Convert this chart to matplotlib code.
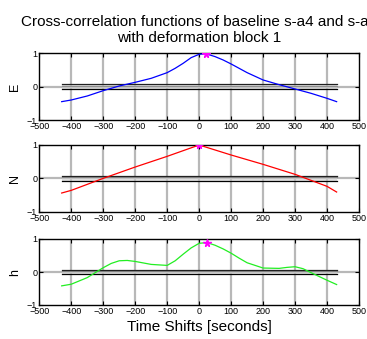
import numpy as np
import matplotlib
matplotlib.use("Agg")
import matplotlib.pyplot as plt

plt.rcParams['font.family'] = ['Liberation Sans', 'DejaVu Sans']

lags_E = [-430, -400, -350, -300, -250, -200, -150, -100, -75, -50, -25, 0, 20, 50, 75, 100, 125, 150, 200, 250, 300, 350, 400, 430]
E = [-0.45, -0.40, -0.28, -0.12, 0.02, 0.13, 0.25, 0.42, 0.55, 0.70, 0.87, 0.97, 0.99, 0.90, 0.80, 0.68, 0.55, 0.42, 0.20, 0.06, -0.07, -0.20, -0.35, -0.45]
lags_N = [-430, -400, -300, -200, -100, 0, 100, 200, 300, 400, 430]
N = [-0.44, -0.36, 0.00, 0.34, 0.66, 1.00, 0.70, 0.42, 0.12, -0.24, -0.41]
lags_h = [-430, -400, -350, -300, -275, -250, -225, -200, -150, -100, -75, -50, -25, 0, 25, 50, 75, 100, 125, 150, 200, 250, 275, 300, 325, 350, 400, 430]
H = [-0.42, -0.37, -0.17, 0.13, 0.26, 0.34, 0.35, 0.32, 0.23, 0.20, 0.34, 0.54, 0.73, 0.87, 0.89, 0.81, 0.70, 0.57, 0.42, 0.28, 0.12, 0.11, 0.14, 0.16, 0.10, -0.02, -0.25, -0.38]
peaks = {'E': (20, 0.98), 'N': (0, 1.0), 'h': (25, 0.88)}
conf = 0.075
series = [('E', lags_E, E, 'blue'), ('N', lags_N, N, 'red'), ('h', lags_h, H, '#22ee22')]
xticks = [-500, -400, -300, -200, -100, 0, 100, 200, 300, 400, 500]

fig = plt.figure(figsize=(3.67, 3.39), dpi=100)
W, Hh = 367, 339
boxes = [(53.3, 120), (145, 211.7), (239, 305)]
x0, x1 = 39.3, 359
for (name, lg, vals, col), (top, bot) in zip(series, boxes):
    ax = fig.add_axes([x0 / W, 1 - bot / Hh, (x1 - x0) / W, (bot - top) / Hh])
    ax.set_xlim(-500, 500)
    ax.set_ylim(-1, 1)
    for xv in xticks[1:-1]:
        ax.axvline(xv, color='#b8b8b8', lw=1.6, zorder=0)
    ax.axhline(0, color='#b8b8b8', lw=1.6, zorder=0)
    ax.fill_between([-430, 430], [-conf, -conf], [conf, conf], color='#d0d0d0', alpha=0.6, zorder=1, lw=0)
    ax.plot([-430, 430], [conf * 0.45, conf * 0.45], color='#909090', lw=0.8, zorder=2)
    ax.plot([-430, 430], [conf, conf], color='#202020', lw=0.9, zorder=2)
    ax.plot([-430, 430], [-conf, -conf], color='black', lw=0.9, zorder=2)
    ax.plot(lg, vals, color=col, lw=0.9, zorder=3)
    px, py = peaks[name]
    ax.plot([px], [py], marker='*', color='magenta', ms=5.5, zorder=4)
    ax.set_xticks(xticks)
    ax.set_yticks([-1, 0, 1])
    ax.tick_params(direction='in', length=3, width=0.8, labelsize=6.5, top=True, right=True, pad=1.5)
    ax.set_ylabel(name, fontsize=9, labelpad=4)
    for s in ax.spines.values():
        s.set_linewidth(1.0)
    if name == 'E':
        ax.set_title('Cross-correlation functions of baseline s-a4 and s-a5\nwith deformation block 1',
                     fontsize=11, pad=8, linespacing=1.2)
    if name == 'h':
        ax.set_xlabel('Time Shifts [seconds]', fontsize=11, labelpad=3)

fig.savefig('out.png', dpi=100)
